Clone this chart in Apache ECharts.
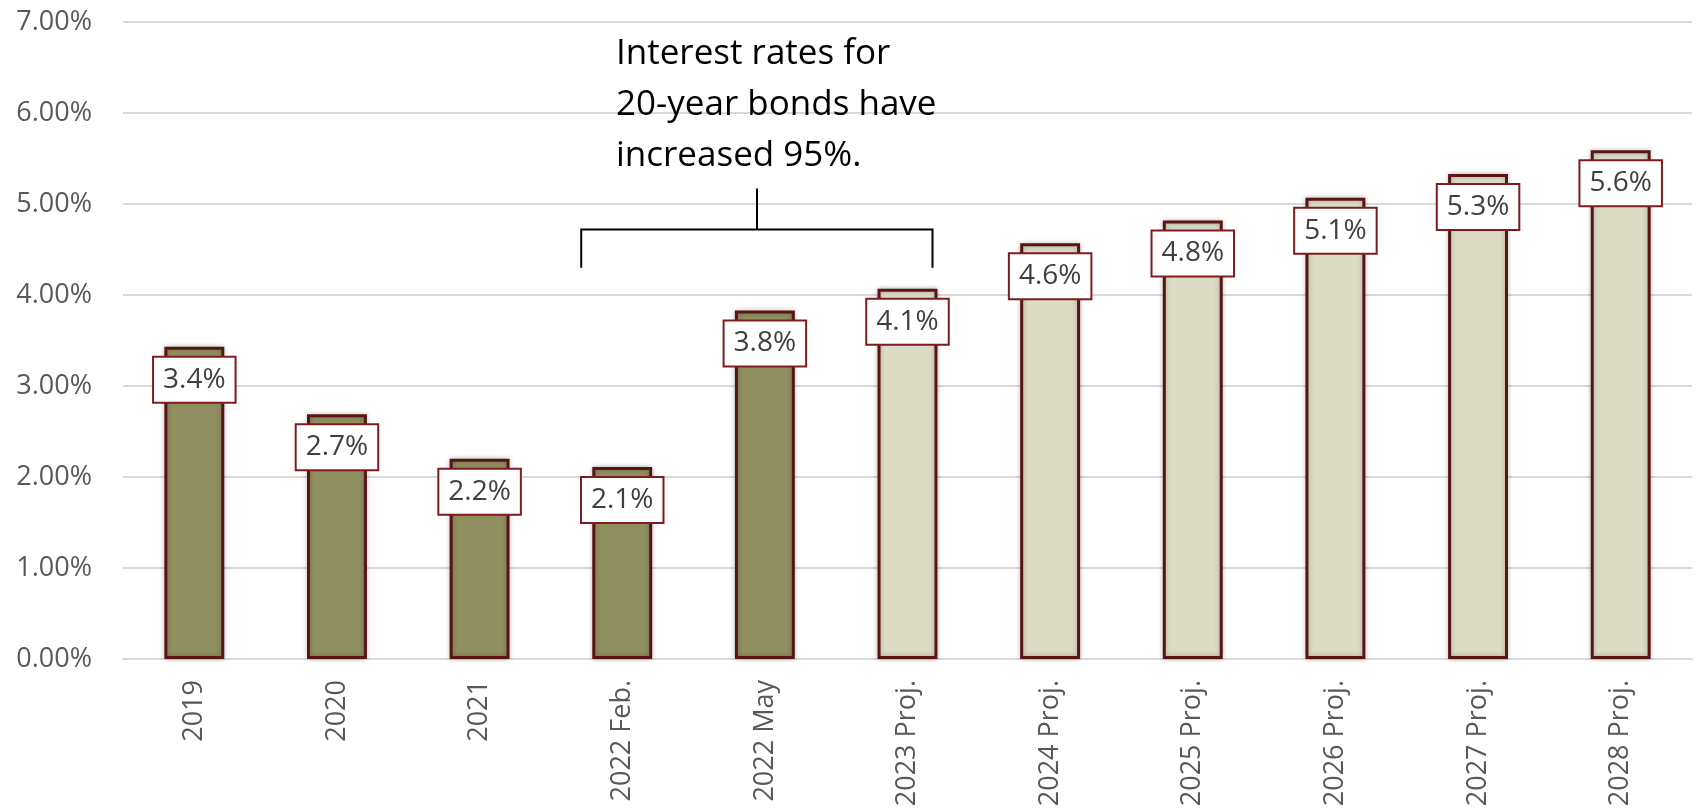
<!DOCTYPE html>
<html>
<head>
<meta charset="utf-8">
<script src="https://cdn.jsdelivr.net/npm/echarts@6/dist/echarts.min.js"></script>
<style>html,body{margin:0;padding:0;background:#fff;}#c{width:1696px;height:812px;}</style>
</head>
<body>
<div id="c"></div>
<script>
const categories = ['2019','2020','2021','2022 Feb.','2022 May','2023 Proj.','2024 Proj.','2025 Proj.','2026 Proj.','2027 Proj.','2028 Proj.'];
const rates = [3.43, 2.69, 2.20, 2.11, 3.83, 4.07, 4.57, 4.82, 5.07, 5.33, 5.59];
const yTicks = [0, 1, 2, 3, 4, 5, 6, 7];
const noteLines = ['Interest rates for', '20-year bonds have', 'increased 95%.'];

const FONT = '"Open Sans", "Liberation Sans", sans-serif';
const chart = echarts.init(document.getElementById('c'));

const barData = rates.map((v, i) => ({
  value: v,
  itemStyle: {
    color: categories[i].indexOf('Proj.') >= 0 ? '#dcdbc5' : '#8f8f60'
  }
}));

chart.setOption({
  animation: false,
  backgroundColor: '#ffffff',
  grid: { left: 123, right: 4, top: 22, bottom: 153, containLabel: false },
  xAxis: {
    type: 'category',
    data: categories,
    axisLine: { lineStyle: { color: '#d9d9d9', width: 2 } },
    axisTick: { show: false },
    axisLabel: { rotate: 90, color: '#595959', fontSize: 27, fontFamily: FONT, margin: 21, interval: 0 }
  },
  yAxis: {
    type: 'value',
    min: yTicks[0],
    max: yTicks[yTicks.length - 1],
    interval: 1,
    axisLine: { show: false },
    axisTick: { show: false },
    splitLine: { lineStyle: { color: '#d9d9d9', width: 2 } },
    axisLabel: { color: '#595959', fontSize: 27, fontFamily: FONT, margin: 31, formatter: v => v.toFixed(2) + '%' }
  },
  series: [{
    type: 'bar',
    data: barData,
    barWidth: '42%',
    itemStyle: {
      borderColor: '#5a1414',
      borderWidth: 3,
      shadowBlur: 5,
      shadowColor: 'rgba(0,0,0,0.25)'
    },
    label: {
      show: true,
      position: 'insideTop',
      distance: 11,
      formatter: p => p.value.toFixed(1) + '%',
      color: '#404040',
      fontSize: 28,
      fontFamily: FONT,
      lineHeight: 32,
      backgroundColor: '#ffffff',
      borderColor: '#7f1d1d',
      borderWidth: 2,
      padding: [6, 9]
    }
  }]
});

function drawNote() {
  const left = chart.convertToPixel({ xAxisIndex: 0 }, categories[3]);
  const right = chart.convertToPixel({ xAxisIndex: 0 }, categories[5]);
  const x1 = left - 41;
  const x2 = right + 25;
  const yH = chart.convertToPixel({ yAxisIndex: 0 }, 4.72);
  const yEnd = chart.convertToPixel({ yAxisIndex: 0 }, 4.3);
  const yStem = chart.convertToPixel({ yAxisIndex: 0 }, 5.17);
  const xm = 757;
  chart.setOption({
    graphic: [
      { type: 'polyline', shape: { points: [[x1, yEnd], [x1, yH], [x2, yH], [x2, yEnd]] }, style: { stroke: '#000', lineWidth: 2, fill: null } },
      { type: 'line', shape: { x1: xm, y1: yStem, x2: xm, y2: yH }, style: { stroke: '#000', lineWidth: 2 } },
      { type: 'text', left: 616, top: 29, style: { text: noteLines.join('\n'), font: '35px ' + FONT, lineHeight: 51, fill: '#000' } }
    ]
  });
}
drawNote();
</script>
</body>
</html>
